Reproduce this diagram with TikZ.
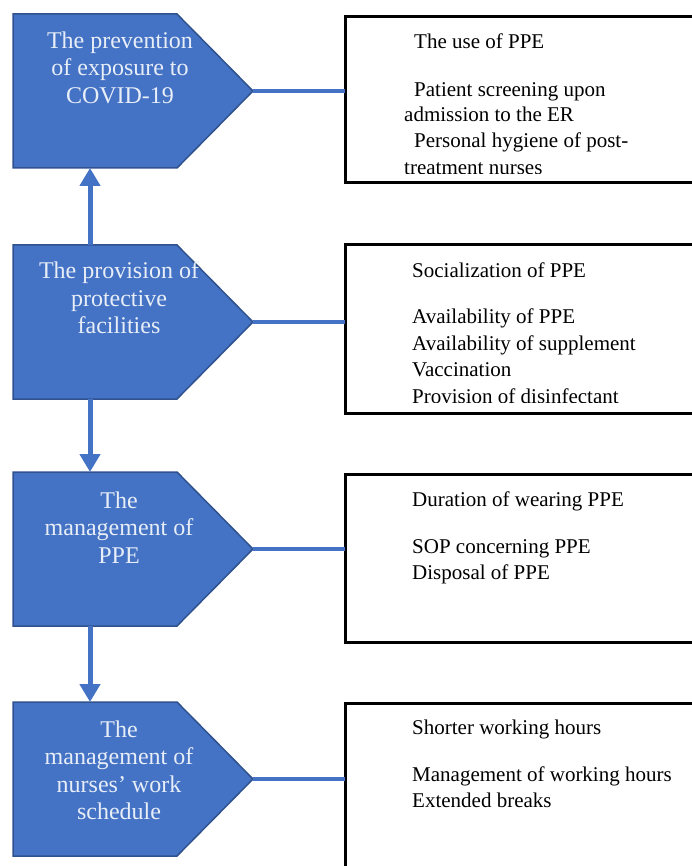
\documentclass[tikz,border=0pt]{standalone}
\usepackage{fontspec}
\setmainfont{Liberation Serif}
\usetikzlibrary{arrows.meta,calc}
\definecolor{pblue}{HTML}{4472C4}
\definecolor{pedge}{HTML}{2F528F}
\definecolor{ptext}{HTML}{E8EEF8}
\begin{document}
\begin{tikzpicture}[x=1pt,y=-1pt,
  prect/.style={inner sep=0,outer sep=0,minimum width=164pt,minimum height=154pt,anchor=north west},
  pshape/.style={fill=pblue,draw=pedge,line width=1.5pt,line join=miter},
  ptxt/.style={anchor=north,inner sep=0,align=center,text=ptext,font=\fontsize{24}{27.5}\selectfont},
  rbox/.style={draw=black,line width=3pt,inner sep=0,outer sep=0,minimum width=400pt,anchor=north west},
  item/.style={anchor=base west,inner sep=0,font=\fontsize{21}{26}\selectfont},
  varrow/.style={draw=pblue,line width=5pt,-{Triangle[width=20pt,length=18pt]}},
  hline/.style={draw=pblue,line width=3.5pt}]
\useasboundingbox (0,0) rectangle (692,866);
\clip (0,0) rectangle (692,866);
\fill[white] (0,0) rectangle (692,866);

% pentagons
\node[prect] (p1) at (13,14) {};
\node[prect] (p2) at (13,245) {};
\node[prect] (p3) at (13,472) {};
\node[prect] (p4) at (13,702) {};
\foreach \i in {1,2,3,4}{
  \draw[pshape] (p\i.north west) -- (p\i.north east) -- ($(p\i.east)+(76,0)$) coordinate (t\i)
    -- (p\i.south east) -- (p\i.south west) -- cycle;
}
\node[ptxt] (l1) at (120,31.6) {The prevention\\of exposure to\\COVID-19};
\node[ptxt] (l2) at (119,261.6) {The provision of\\protective\\facilities};
\node[ptxt] (l3) at (119,491.6) {The\\management of\\PPE};
\node[ptxt] (l4) at (119,720.6) {The\\management of\\nurses’ work\\schedule};

% vertical arrows
\draw[varrow] ([xshift=-5pt]p2.north) -- ([xshift=-5pt]p1.south);
\draw[varrow] ([xshift=-5pt]p2.south) -- ([xshift=-5pt]p3.north);
\draw[varrow] ([xshift=-5pt]p3.south) -- ([xshift=-5pt]p4.north);

% boxes
\node[rbox,minimum height=166pt] (b1) at (345,17) {};
\node[rbox,minimum height=168pt] (b2) at (345,245) {};
\node[rbox,minimum height=168pt] (b3) at (345,474) {};
\node[rbox,minimum height=190pt] (b4) at (345,703) {};

% connectors
\foreach \i in {1,2,3,4}{
  \draw[hline] (t\i) -- (t\i -| b\i.west);
}

% box texts
\begin{scope}
\clip (350,20) rectangle (700,173.5);
\node[item] (a1) at (414,49) {The use of PPE};
\node[item] (a2) at (414,97) {Patient screening upon};
\node[item] (a3) at (404,122) {admission to the ER};
\node[item] (a4) at (414,148) {Personal hygiene of post-};
\node[item] (a5) at (404,174.5) {treatment nurses};
\end{scope}
\begin{scope}
\clip (350,248) rectangle (700,402.5);
\node[item] (c1) at (412,277) {Socialization of PPE};
\node[item] (c2) at (412,323) {Availability of PPE};
\node[item] (c3) at (412,350) {Availability of supplement};
\node[item] (c4) at (412,376) {Vaccination};
\node[item] (c5) at (412,403) {Provision of disinfectant};
\end{scope}
\node[item] (d1) at (412,506) {Duration of wearing PPE};
\node[item] (d2) at (412,553) {SOP concerning PPE};
\node[item] (d3) at (412,579) {Disposal of PPE};
\node[item] (e1) at (412,734) {Shorter working hours};
\node[item] (e2) at (412,781) {Management of working hours};
\node[item] (e3) at (412,807) {Extended breaks};
\end{tikzpicture}
\end{document}
